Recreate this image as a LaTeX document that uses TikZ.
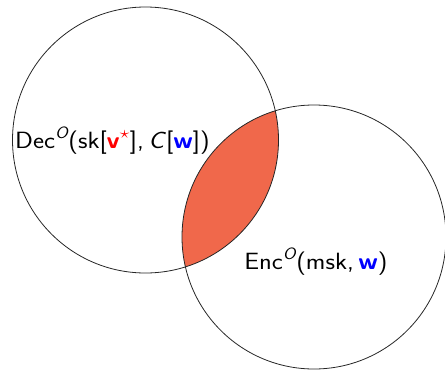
\documentclass[tikz,border=0pt]{standalone}
\usepackage{amsmath}
\usepackage{graphicx}
\usepackage{xcolor}
\definecolor{lensfill}{RGB}{240,104,75}
\newcommand{\wideit}[1]{\scalebox{1.12}[1]{#1}}
\begin{document}
\begin{tikzpicture}[x=1pt,y=-1pt,
  circ/.style={draw=black!85,line width=0.8pt},
  lbl/.style={font=\fontsize{23.5}{28}\selectfont\sffamily,anchor=base,inner sep=0pt}]
\useasboundingbox (0,0) rectangle (445,370);
\coordinate (cl) at (145.5,140);
\coordinate (cr) at (314,237);
\begin{scope}
  \clip (cl) circle[radius=133];
  \fill[lensfill] (cr) circle[radius=132];
\end{scope}
\draw[circ] (cl) circle[radius=133];
\draw[circ] (cr) circle[radius=132];
\node[lbl] (dec) at (112.5,148) {\wideit{Dec$^{\textsf{\itshape O}}$(sk[\textcolor{red}{\textbf{v}$^{\star}$}],\,\textit{C}[\textcolor{blue}{\textbf{w}}])}};
\node[lbl] (enc) at (316,269) {\wideit{Enc$^{\textsf{\itshape O}}$(msk,\,\textcolor{blue}{\textbf{w}})}};
\end{tikzpicture}
\end{document}
